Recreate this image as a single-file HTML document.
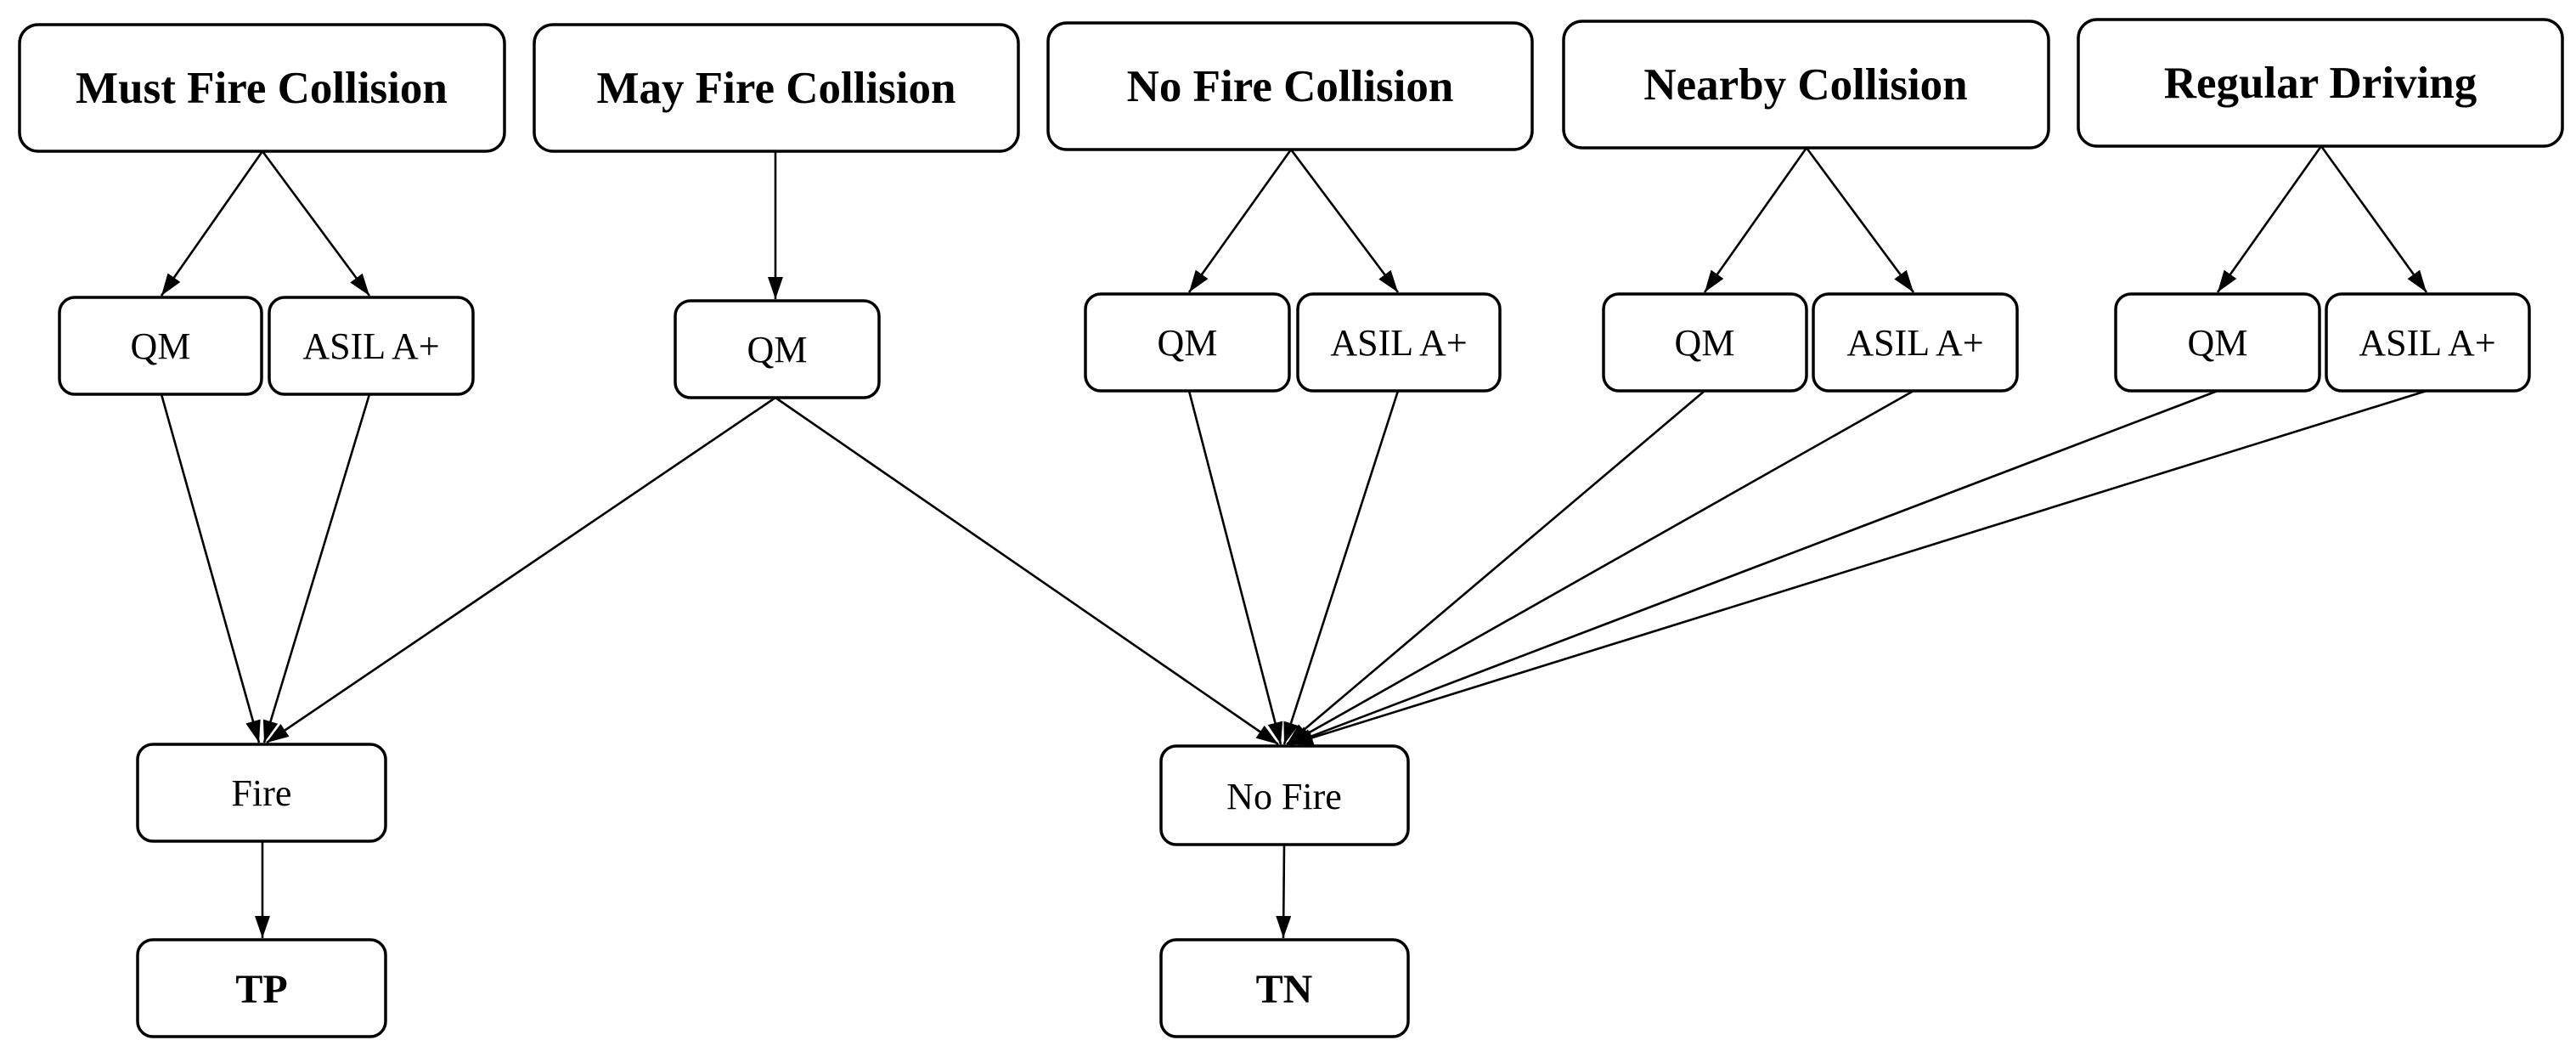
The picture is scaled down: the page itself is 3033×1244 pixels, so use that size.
<!DOCTYPE html>
<html><head><meta charset="utf-8"><style>
html,body{margin:0;padding:0;background:#fff;}
svg{display:block;}
text{font-family:"Liberation Serif",serif;fill:#000;}
.b{font-weight:bold;font-size:53px;}
.n{font-size:44px;}
.bb{font-weight:bold;font-size:48px;}
rect{fill:#fff;stroke:#000;stroke-width:3.5;}
line{stroke:#000;stroke-width:2.6;}
</style></head><body>
<svg width="3033" height="1244" viewBox="0 0 3033 1244" xmlns="http://www.w3.org/2000/svg">
<defs>
<marker id="a" viewBox="0 0 26 18" refX="26" refY="9" markerWidth="26" markerHeight="18" markerUnits="userSpaceOnUse" orient="auto">
<path d="M0,0 L26,9 L0,18 z" fill="#000"/>
</marker>
</defs>
<g marker-end="url(#a)">
<line x1="309" y1="178" x2="190" y2="348"/>
<line x1="309" y1="178" x2="435" y2="348"/>
<line x1="913" y1="178" x2="913" y2="352"/>
<line x1="1520" y1="176" x2="1400" y2="344"/>
<line x1="1520" y1="176" x2="1646" y2="344"/>
<line x1="2127" y1="174" x2="2007" y2="344"/>
<line x1="2127" y1="174" x2="2253" y2="344"/>
<line x1="2733" y1="172" x2="2611" y2="344"/>
<line x1="2733" y1="172" x2="2857" y2="344"/>
<line x1="190" y1="464" x2="305" y2="874"/>
<line x1="435" y1="464" x2="311" y2="874"/>
<line x1="913" y1="468" x2="314" y2="874"/>
<line x1="913" y1="468" x2="1505" y2="876"/>
<line x1="1400" y1="460" x2="1508" y2="876"/>
<line x1="1646" y1="460" x2="1512" y2="876"/>
<line x1="2007" y1="460" x2="1515" y2="876"/>
<line x1="2253" y1="460" x2="1517" y2="876"/>
<line x1="2611" y1="460" x2="1519" y2="876"/>
<line x1="2857" y1="460" x2="1520" y2="876"/>
<line x1="309" y1="990" x2="309" y2="1104"/>
<line x1="1512" y1="994" x2="1511" y2="1104"/>
</g>
<rect x="23" y="29" width="571" height="149" rx="22"/>
<text class="b" x="308" y="121" text-anchor="middle">Must Fire Collision</text>
<rect x="629" y="29" width="570" height="149" rx="22"/>
<text class="b" x="914" y="121" text-anchor="middle">May Fire Collision</text>
<rect x="1234" y="27" width="570" height="149" rx="22"/>
<text class="b" x="1519" y="119" text-anchor="middle">No Fire Collision</text>
<rect x="1841" y="25" width="571" height="149" rx="22"/>
<text class="b" x="2126" y="117" text-anchor="middle">Nearby Collision</text>
<rect x="2447" y="23" width="570" height="149" rx="22"/>
<text class="b" x="2732" y="115" text-anchor="middle">Regular Driving</text>
<rect x="70" y="350" width="238" height="114" rx="18"/>
<text class="n" x="189" y="422" text-anchor="middle">QM</text>
<rect x="317" y="350" width="240" height="114" rx="18"/>
<text class="n" x="437" y="422" text-anchor="middle">ASIL A+</text>
<rect x="795" y="354" width="240" height="114" rx="18"/>
<text class="n" x="915" y="426" text-anchor="middle">QM</text>
<rect x="1278" y="346" width="240" height="114" rx="18"/>
<text class="n" x="1398" y="418" text-anchor="middle">QM</text>
<rect x="1528" y="346" width="238" height="114" rx="18"/>
<text class="n" x="1647" y="418" text-anchor="middle">ASIL A+</text>
<rect x="1888" y="346" width="239" height="114" rx="18"/>
<text class="n" x="2007" y="418" text-anchor="middle">QM</text>
<rect x="2135" y="346" width="240" height="114" rx="18"/>
<text class="n" x="2255" y="418" text-anchor="middle">ASIL A+</text>
<rect x="2491" y="346" width="240" height="114" rx="18"/>
<text class="n" x="2611" y="418" text-anchor="middle">QM</text>
<rect x="2739" y="346" width="239" height="114" rx="18"/>
<text class="n" x="2858" y="418" text-anchor="middle">ASIL A+</text>
<rect x="162" y="876" width="292" height="114" rx="18"/>
<text class="n" x="308" y="948" text-anchor="middle">Fire</text>
<rect x="1367" y="878" width="291" height="116" rx="18"/>
<text class="n" x="1512" y="952" text-anchor="middle">No Fire</text>
<rect x="162" y="1106" width="292" height="114" rx="18"/>
<text class="bb" x="308" y="1180" text-anchor="middle">TP</text>
<rect x="1367" y="1106" width="291" height="114" rx="18"/>
<text class="bb" x="1512" y="1180" text-anchor="middle">TN</text>
</svg>
</body></html>
